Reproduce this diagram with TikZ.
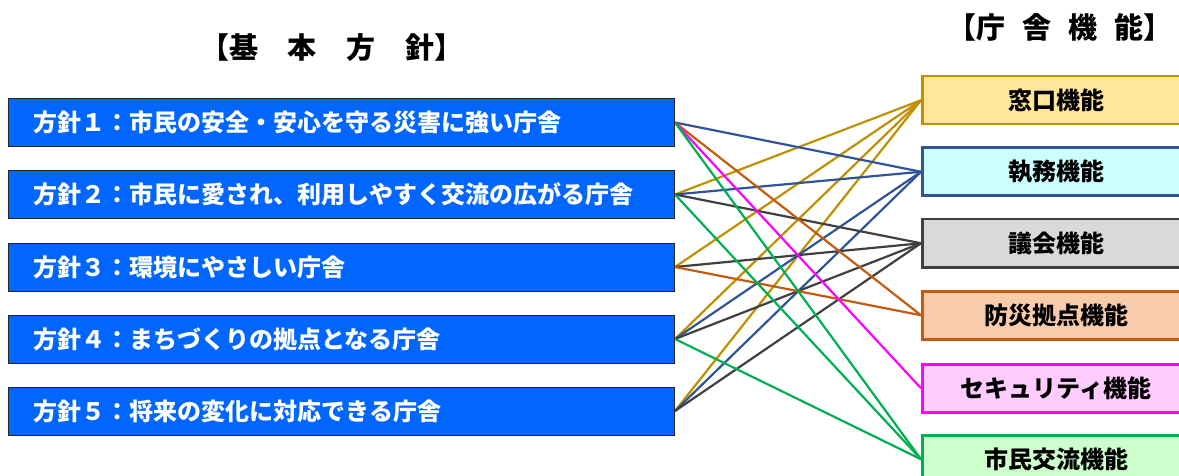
\documentclass[tikz,border=0pt]{standalone}
\usepackage{fontspec}
\newfontfamily\jp{Noto Sans CJK JP}
\usetikzlibrary{backgrounds}
\definecolor{polblue}{HTML}{0066FF}
\definecolor{cgold}{HTML}{BF9000}
\definecolor{cblue}{HTML}{2F5597}
\definecolor{cgray}{HTML}{404040}
\definecolor{corange}{HTML}{C55A11}
\definecolor{cmag}{HTML}{FF00FF}
\definecolor{cgreen}{HTML}{00B050}
\definecolor{fgold}{HTML}{FFE699}
\definecolor{fblue}{HTML}{CCFFFF}
\definecolor{fgray}{HTML}{D9D9D9}
\definecolor{forange}{HTML}{F8CBAD}
\definecolor{fmag}{HTML}{FFCCFF}
\definecolor{fgreen}{HTML}{CCFFCC}
\begin{document}
\begin{tikzpicture}[x=1pt,y=-1pt,
  pol/.style={draw=black!85, line width=1pt, fill=polblue, minimum width=666pt,
    minimum height=48pt, anchor=west, text=white,
    font=\jp\bfseries\fontsize{24}{28}\selectfont, align=left,
    text width=616pt, inner xsep=25pt, inner ysep=0pt},
  fun/.style={line width=2.5pt, minimum width=268pt, minimum height=48pt,
    anchor=north west, text=black, inner sep=0pt,
    font=\jp\bfseries\fontsize{24}{28}\selectfont},
  ttl/.style={text=black, inner sep=0pt, font=\jp\bfseries\fontsize{29}{32}\selectfont},
  conn/.style={line width=2.2pt}]
\useasboundingbox (0,0) rectangle (1179,476);

\node[ttl] (t1) at (332,48) {【基\hspace{30pt}本\hspace{30pt}方\hspace{30pt}針】};
\node[ttl] (t2) at (1060,27) {【庁\hspace{17pt}舎\hspace{17pt}機\hspace{17pt}能】};

\node[pol] (p1) at (8,122.5) {方針１：市民の安全・安心を守る災害に強い庁舎};
\node[pol] (p2) at (8,194.5) {方針２：市民に愛され、利用しやすく交流の広がる庁舎};
\node[pol] (p3) at (8,267) {方針３：環境にやさしい庁舎};
\node[pol] (p4) at (8,339) {方針４：まちづくりの拠点となる庁舎};
\node[pol] (p5) at (8,411) {方針５：将来の変化に対応できる庁舎};

\node[fun, draw=cgold, fill=fgold] (f1) at (921,75) {窓口機能};
\node[fun, draw=cblue, fill=fblue] (f2) at (921,146.5) {執務機能};
\node[fun, draw=cgray, fill=fgray] (f3) at (921,218) {議会機能};
\node[fun, draw=corange, fill=forange] (f4) at (921,290) {防災拠点機能};
\node[fun, draw=cmag, fill=fmag] (f5) at (921,363) {セキュリティ機能};
\node[fun, draw=cgreen, fill=fgreen] (f6) at (921,434) {市民交流機能};

\begin{scope}[on background layer]
\draw[conn, cgold] (p2.east) -- (f1.west);
\draw[conn, cgold] (p3.east) -- (f1.west);
\draw[conn, cgold] (p4.east) -- (f1.west);
\draw[conn, cgold] (p5.east) -- (f1.west);
\draw[conn, cblue] (p1.east) -- (f2.west);
\draw[conn, cblue] (p2.east) -- (f2.west);
\draw[conn, cblue] (p4.east) -- (f2.west);
\draw[conn, cblue] (p5.east) -- (f2.west);
\draw[conn, cgray] (p2.east) -- (f3.west);
\draw[conn, cgray] (p3.east) -- (f3.west);
\draw[conn, cgray] (p4.east) -- (f3.west);
\draw[conn, cgray] (p5.east) -- (f3.west);
\draw[conn, corange] (p1.east) -- (f4.west);
\draw[conn, corange] (p3.east) -- (f4.west);
\draw[conn, cmag] (p1.east) -- (f5.west);
\draw[conn, cgreen] (p1.east) -- (f6.west);
\draw[conn, cgreen] (p2.east) -- (f6.west);
\draw[conn, cgreen] (p4.east) -- (f6.west);
\end{scope}
\end{tikzpicture}
\end{document}
